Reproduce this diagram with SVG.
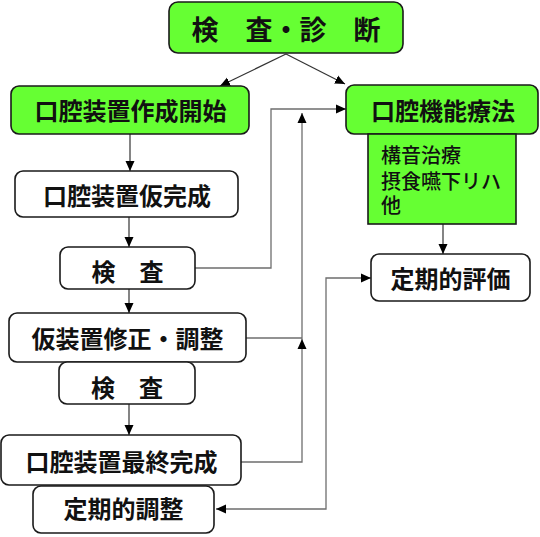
<svg xmlns="http://www.w3.org/2000/svg" width="540" height="537" viewBox="0 0 540 537">
<style>
.box{fill:#fff;stroke:#1a1a1a;stroke-width:1.6}
.g{fill:#66ff33;stroke:#1a1a1a;stroke-width:1.6}
.t{font-family:"Noto Sans CJK JP","Noto Sans CJK SC",sans-serif;font-weight:bold;font-size:24px;fill:#111;text-anchor:middle;dominant-baseline:central}
.l{font-family:"Noto Sans CJK JP","Noto Sans CJK SC",sans-serif;font-weight:500;font-size:20px;fill:#111}
.c{fill:none;stroke:#6e6e6e;stroke-width:1.3}
.d{fill:none;stroke:#333;stroke-width:1.2}
</style>
<defs>
<marker id="ah" markerUnits="userSpaceOnUse" markerWidth="12" markerHeight="10" refX="10" refY="5" orient="auto-start-reverse" viewBox="0 0 12 10">
<path d="M0,0.5 L10,5 L0,9.5 Z" fill="#000"/>
</marker>
</defs>
<rect width="540" height="537" fill="#fff"/>
<g id="connectors">
<line class="d" x1="286" y1="54" x2="220" y2="86" marker-end="url(#ah)"/>
<line class="d" x1="286" y1="54" x2="345" y2="84" marker-end="url(#ah)"/>
<line class="d" x1="130" y1="134" x2="130" y2="171" marker-end="url(#ah)"/>
<line class="d" x1="129" y1="217" x2="129" y2="247" marker-end="url(#ah)"/>
<line class="d" x1="129" y1="289" x2="129" y2="313" marker-end="url(#ah)"/>
<line class="d" x1="129" y1="404" x2="129" y2="435" marker-end="url(#ah)"/>
<line class="d" x1="443" y1="224" x2="443" y2="254" marker-end="url(#ah)"/>
<path class="c" d="M195,268 H271 V109 H346" marker-end="url(#ah)"/>
<path class="c" d="M246,338 H302"/>
<path class="c" d="M241,462 H302 V339" marker-end="url(#ah)"/>
<path class="c" d="M302,339 V113" marker-end="url(#ah)"/>
<path class="c" d="M216,509 H326 V278 H371" marker-start="url(#ah)" marker-end="url(#ah)"/>
</g>
<g id="n-shinsa">
<rect class="g" x="169" y="2" width="234" height="51" rx="9"/>
<text class="t" x="286" y="28.5" style="font-size:27px">検　査・診　断</text>
</g>
<g id="n-sakusei">
<rect class="g" x="11" y="86" width="238" height="48" rx="8"/>
<text class="t" x="130.5" y="109">口腔装置作成開始</text>
</g>
<g id="n-kinou">
<rect class="g" x="346" y="85" width="192" height="49" rx="8"/>
<text class="t" x="443" y="109.5">口腔機能療法</text>
</g>
<g id="n-list">
<rect class="g" x="368" y="134" width="148" height="90"/>
<text class="l" x="381" y="163">構音治療</text>
<text class="l" x="381" y="189">摂食嚥下リハ</text>
<text class="l" x="381" y="213">他</text>
</g>
<g id="n-karikansei">
<rect class="box" x="15" y="171" width="223" height="46" rx="8"/>
<text class="t" x="127" y="194">口腔装置仮完成</text>
</g>
<g id="n-kensa1">
<rect class="box" x="60" y="247" width="135" height="42" rx="8"/>
<text class="t" x="127.5" y="270">検　査</text>
</g>
<g id="n-shusei">
<rect class="box" x="9" y="313" width="237" height="49" rx="8"/>
<text class="t" x="127.5" y="337.5">仮装置修正・調整</text>
</g>
<g id="n-kensa2">
<rect class="box" x="59" y="362" width="136" height="42" rx="8"/>
<text class="t" x="127" y="386">検　査</text>
</g>
<g id="n-saishu">
<rect class="box" x="1" y="435" width="240" height="50" rx="8"/>
<text class="t" x="121.5" y="460">口腔装置最終完成</text>
</g>
<g id="n-chousei">
<rect class="box" x="33" y="486" width="181" height="47" rx="8"/>
<text class="t" x="123.5" y="507.5">定期的調整</text>
</g>
<g id="n-hyouka">
<rect class="box" x="371" y="254" width="159" height="47" rx="8"/>
<text class="t" x="450.5" y="277.5">定期的評価</text>
</g>
</svg>
